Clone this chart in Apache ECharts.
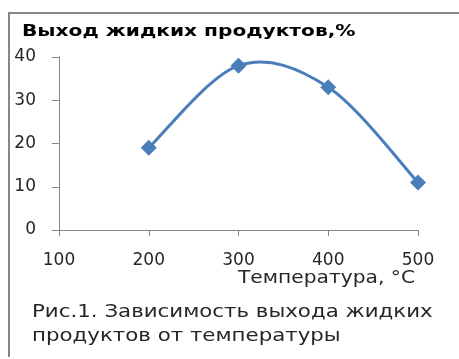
<!DOCTYPE html>
<html><head><meta charset="utf-8">
<script src="https://cdn.jsdelivr.net/npm/echarts@6/dist/echarts.min.js"></script>
<style>html,body{margin:0;padding:0;background:#fff;}#c{width:459px;height:359px;}</style>
</head><body><div id="c"></div>
<script>
const temperatures = [200, 300, 400, 500];
const yieldValues = [19, 38, 33, 11];
const xTicks = [100, 200, 300, 400, 500];
const yTicks = [0, 10, 20, 30, 40];
const chartTitle = 'Выход жидких продуктов,%';
const xAxisTitle = 'Температура, °C';
const captionLines = ['Рис.1. Зависимость выхода жидких', 'продуктов от температуры'];

const chart = echarts.init(document.getElementById('c'), null, {renderer: 'canvas'});
const axisColor = '#868686';
const textColor = '#262626';
const lineColor = '#4a7ebb';
const font = 'DejaVu Sans';

// Excel-style smoothed line (Catmull-Rom -> cubic Bezier), built from data via api.coord
function renderSmooth(params, api) {
  const pts = temperatures.map((t, i) => api.coord([t, yieldValues[i]]));
  let d = 'M' + pts[0][0] + ' ' + pts[0][1];
  for (let i = 0; i < pts.length - 1; i++) {
    const p0 = pts[i - 1] || pts[i];
    const p1 = pts[i];
    const p2 = pts[i + 1];
    const p3 = pts[i + 2] || pts[i + 1];
    const c1 = [p1[0] + (p2[0] - p0[0]) / 6, p1[1] + (p2[1] - p0[1]) / 6];
    const c2 = [p2[0] - (p3[0] - p1[0]) / 6, p2[1] - (p3[1] - p1[1]) / 6];
    d += ' C' + c1[0] + ' ' + c1[1] + ' ' + c2[0] + ' ' + c2[1] + ' ' + p2[0] + ' ' + p2[1];
  }
  return {type: 'path', shape: {pathData: d}, style: {stroke: lineColor, lineWidth: 3, fill: 'none'}};
}

chart.setOption({
  animation: false,
  backgroundColor: '#fff',
  grid: {left: 59, right: 41, top: 57, bottom: 129},
  xAxis: {
    type: 'value', min: xTicks[0], max: xTicks[xTicks.length-1], interval: 100,
    axisLine: {show: true, onZero: false, lineStyle: {color: axisColor, width: 1}},
    axisTick: {show: true, length: 6, lineStyle: {color: axisColor}},
    splitLine: {show: false},
    axisLabel: {color: textColor, fontFamily: font, fontSize: 17, margin: 22}
  },
  yAxis: {
    type: 'value', min: yTicks[0], max: yTicks[yTicks.length-1], interval: 10,
    axisLine: {show: true, lineStyle: {color: axisColor, width: 1}},
    axisTick: {show: true, length: 7, lineStyle: {color: axisColor}},
    splitLine: {show: false},
    axisLabel: {color: textColor, fontFamily: font, fontSize: 17, margin: 23}
  },
  series: [
    {
      type: 'custom',
      data: [[temperatures[0], yieldValues[0]]],
      renderItem: renderSmooth,
      clip: false,
      z: 2
    },
    {
      type: 'scatter',
      data: temperatures.map((t, i) => [t, yieldValues[i]]),
      symbol: 'diamond',
      symbolSize: 16,
      itemStyle: {color: lineColor, opacity: 1},
      z: 3
    }
  ],
  graphic: [
    {type: 'rect', shape: {x: 9, y: 12, width: 450, height: 2}, style: {fill: axisColor}},
    {type: 'rect', shape: {x: 8, y: 12, width: 2, height: 345}, style: {fill: axisColor}},
    {type: 'text', x: 22, y: 32, scaleX: 1.26, style: {text: chartTitle, font: 'bold 16px "DejaVu Sans"', fill: '#000', textVerticalAlign: 'middle'}},
    {type: 'text', x: 238, y: 279, scaleX: 1.19, style: {text: xAxisTitle, font: '17px "DejaVu Sans"', fill: textColor, textVerticalAlign: 'middle'}},
    {type: 'text', x: 32, y: 313, scaleX: 1.255, style: {text: captionLines[0], font: '17px "DejaVu Sans"', fill: textColor, textVerticalAlign: 'middle'}},
    {type: 'text', x: 32, y: 337, scaleX: 1.255, style: {text: captionLines[1], font: '17px "DejaVu Sans"', fill: textColor, textVerticalAlign: 'middle'}}
  ]
});
</script></body></html>
